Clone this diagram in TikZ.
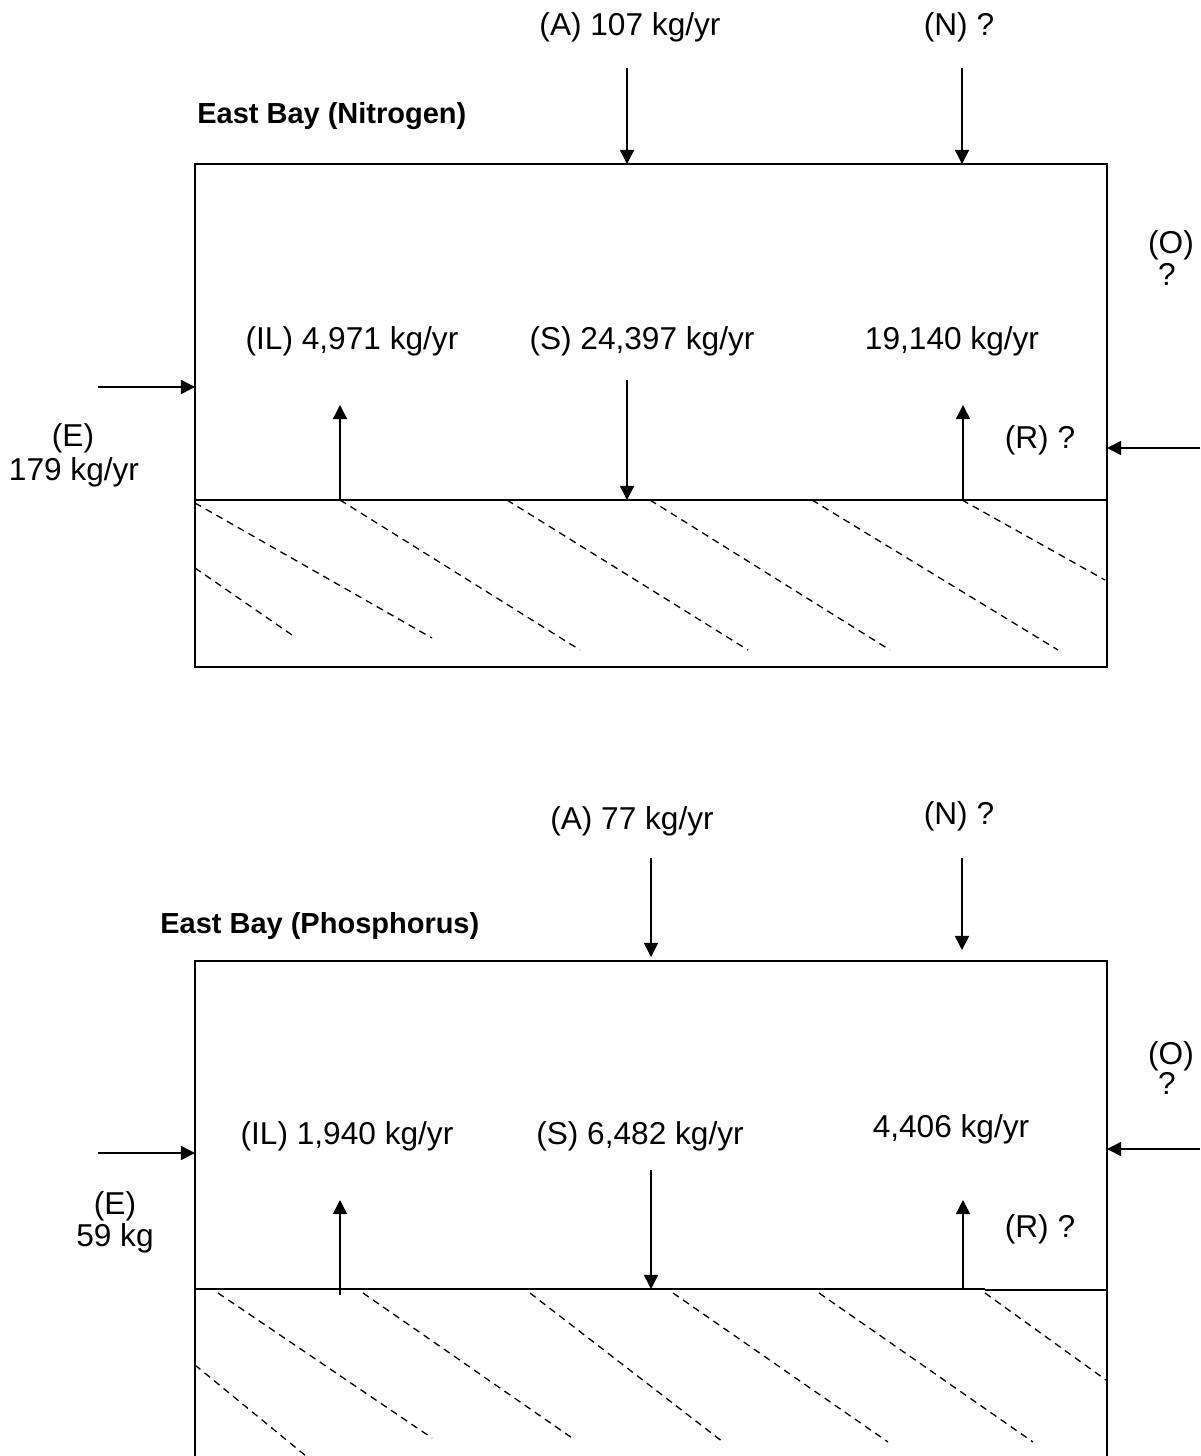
\documentclass[tikz,border=0pt]{standalone}
\usepackage{fontspec}
\setmainfont{Liberation Sans}
\usetikzlibrary{arrows.meta}

\begin{document}
\begin{tikzpicture}[
        x=0.02cm, y=-0.02cm,
        font=\fontsize{18}{21}\selectfont,
        >={Triangle[length=8pt, width=8pt]},
        flow/.style={->, line width=0.85pt},
        wall/.style={line width=1.1pt},
        hatch/.style={line width=0.75pt, dash pattern=on 4pt off 3pt},
        lbl/.style={anchor=base, inner sep=0pt},
        heading/.style={anchor=base west, inner sep=0pt, font=\fontsize{16.5}{20}\selectfont\bfseries}
    ]
        \useasboundingbox (0,0) rectangle (1200,1456);

        % nitrogen budget
        \draw[wall] (195,164) rectangle (1107,667);
        \draw[wall] (195,500) -- (1107,500);
        \foreach \a/\b/\c/\d in {195/503/432/638, 195/568/292/635, 340/500/580/650,
                507/500/748/650, 650/500/890/650, 812/500/1058/650, 962/500/1105/580}
            \draw[hatch] (\a,\b) -- (\c,\d);

        \node[heading] (nTitle) at (197,124) {East Bay (Nitrogen)};
        \node[lbl] (nA)  at (630,36)   {(A) 107 kg/yr};
        \node[lbl] (nN)  at (959,36)   {(N) ?};
        \node[lbl] (nO)  at (1171,254) {(O)};
        \node[lbl] (nOv) at (1167,286) {?};
        \node[lbl] (nIL) at (352,349)  {(IL) 4,971 kg/yr};
        \node[lbl] (nS)  at (642,349)  {(S) 24,397 kg/yr};
        \node[lbl] (nRv) at (952,349)  {19,140 kg/yr};
        \node[lbl] (nR)  at (1040,448) {(R) ?};
        \node[lbl] (nE)  at (73,446)   {(E)};
        \node[lbl] (nEv) at (74,480)   {179 kg/yr};

        \coordinate (nA1) at (627,68);   \coordinate (nA2) at (627,164);
        \coordinate (nN1) at (962,68);   \coordinate (nN2) at (962,164);
        \coordinate (nE1) at (98,387);   \coordinate (nE2) at (195,387);
        \coordinate (nO1) at (1200,448); \coordinate (nO2) at (1107,448);
        \coordinate (nI1) at (340,500);  \coordinate (nI2) at (340,405);
        \coordinate (nS1) at (627,380);  \coordinate (nS2) at (627,500);
        \coordinate (nR1) at (963,500);  \coordinate (nR2) at (963,405);

        \draw[flow] (nA1) -- (nA2);
        \draw[flow] (nN1) -- (nN2);
        \draw[flow] (nE1) -- (nE2);
        \draw[flow] (nO1) -- (nO2);
        \draw[flow] (nI1) -- (nI2);
        \draw[flow] (nS1) -- (nS2);
        \draw[flow] (nR1) -- (nR2);

        % phosphorus budget
        \draw[wall] (195,1456) -- (195,961) -- (1107,961) -- (1107,1456);
        \draw[wall] (195,1289) -- (985,1289);
        \draw[line width=0.8pt] (985,1290) -- (1107,1290);
        \foreach \a/\b/\c/\d in {218/1293/432/1438, 195/1365/306/1456, 363/1293/575/1440,
                530/1293/723/1442, 673/1293/888/1442, 819/1293/1033/1442, 985/1293/1106/1380}
            \draw[hatch] (\a,\b) -- (\c,\d);

        \node[heading] (pTitle) at (160,933) {East Bay (Phosphorus)};
        \node[lbl] (pA)  at (632,829)  {(A) 77 kg/yr};
        \node[lbl] (pN)  at (959,824)  {(N) ?};
        \node[lbl] (pO)  at (1171,1064) {(O)};
        \node[lbl] (pOv) at (1167,1094) {?};
        \node[lbl] (pIL) at (347,1144) {(IL) 1,940 kg/yr};
        \node[lbl] (pS)  at (640,1144) {(S) 6,482 kg/yr};
        \node[lbl] (pRv) at (951,1137) {4,406 kg/yr};
        \node[lbl] (pR)  at (1040,1237) {(R) ?};
        \node[lbl] (pE)  at (115,1214) {(E)};
        \node[lbl] (pEv) at (115,1246) {59 kg};

        \coordinate (pA1) at (651,858);   \coordinate (pA2) at (651,957);
        \coordinate (pN1) at (962,858);   \coordinate (pN2) at (962,950);
        \coordinate (pE1) at (98,1153);   \coordinate (pE2) at (195,1153);
        \coordinate (pO1) at (1200,1149); \coordinate (pO2) at (1107,1149);
        \coordinate (pI1) at (340,1295);  \coordinate (pI2) at (340,1200);
        \coordinate (pS1) at (651,1170);  \coordinate (pS2) at (651,1289);
        \coordinate (pR1) at (963,1289);  \coordinate (pR2) at (963,1200);

        \draw[flow] (pA1) -- (pA2);
        \draw[flow] (pN1) -- (pN2);
        \draw[flow] (pE1) -- (pE2);
        \draw[flow] (pO1) -- (pO2);
        \draw[flow] (pI1) -- (pI2);
        \draw[flow] (pS1) -- (pS2);
        \draw[flow] (pR1) -- (pR2);
\end{tikzpicture}
\end{document}
